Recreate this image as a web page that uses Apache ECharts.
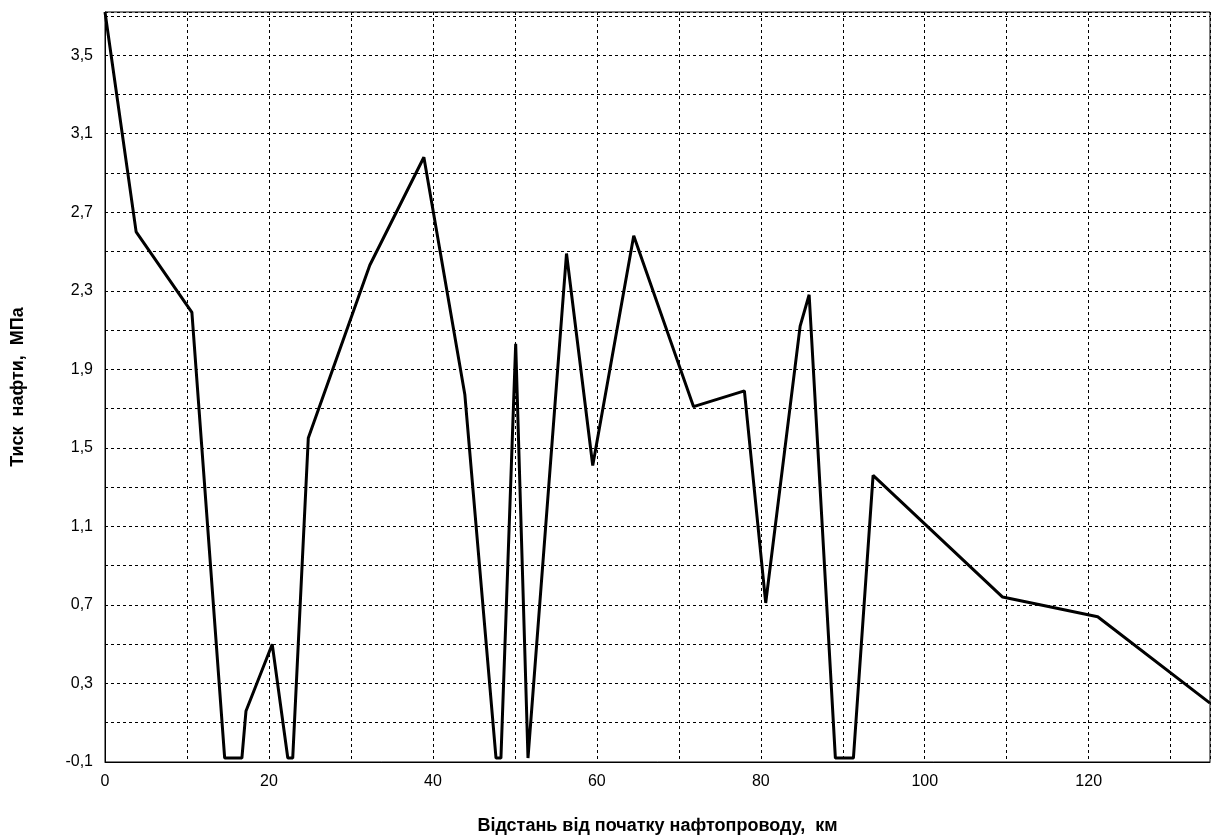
<!DOCTYPE html>
<html><head><meta charset="utf-8">
<script src="https://cdn.jsdelivr.net/npm/echarts@6/dist/echarts.min.js"></script>
<style>html,body{margin:0;background:#fff}#main{width:1213px;height:840px}</style>
</head><body><div id="main"></div>
<script>
var distance = [0, 3.8, 10.6, 14.6, 16.7, 17.2, 20.4, 22.3, 22.9, 24.8, 32.3, 38.9, 43.9, 47.7, 48.3, 50.1, 51.6, 56.3, 59.5, 64.5, 71.8, 78.0, 80.6, 84.8, 85.9, 89.1, 91.3, 93.7, 109.5, 121.1, 134.8];
var pressure = [3.72, 2.6, 2.19, -0.08, -0.08, 0.16, 0.5, -0.08, -0.08, 1.55, 2.43, 2.98, 1.77, -0.08, -0.08, 2.03, -0.08, 2.49, 1.41, 2.58, 1.71, 1.79, 0.71, 2.12, 2.28, -0.08, -0.08, 1.36, 0.74, 0.64, 0.2];

var myChart = echarts.init(document.getElementById('main'));
var font = 'Liberation Sans, Arial, sans-serif';
var dashed = { show: true, lineStyle: { color: '#000', type: [3, 3], width: 1 } };

var option = {
  animation: false,
  grid: { left: 105, right: 3, top: 12, bottom: 77, show: true, borderColor: '#000', borderWidth: 1 },
  xAxis: {
    type: 'value', min: 0, max: 134.8, interval: 10,
    name: 'Відстань від початку нафтопроводу,  км', nameLocation: 'middle', nameGap: 55,
    nameTextStyle: { fontFamily: font, fontSize: 18, fontWeight: 'bold', color: '#000' },
    axisLine: { onZero: false, lineStyle: { color: '#000' } },
    axisTick: { show: false },
    axisLabel: { fontFamily: font, fontSize: 16, color: '#000', margin: 12, showMaxLabel: false,
      formatter: function (v) { return v % 20 === 0 ? String(v) : ''; } },
    splitLine: dashed
  },
  yAxis: {
    type: 'value', min: -0.1, max: 3.72, interval: 0.2,
    name: 'Тиск  нафти,  МПа', nameLocation: 'middle', nameGap: 78,
    nameTextStyle: { fontFamily: font, fontSize: 18, fontWeight: 'bold', color: '#000' },
    axisLine: { show: true, onZero: false, lineStyle: { color: '#000' } },
    axisTick: { show: false },
    axisLabel: { fontFamily: font, fontSize: 16, color: '#000', margin: 12, showMaxLabel: false,
      formatter: function (v) {
        var k = Math.round((v + 0.1) / 0.2);
        return k % 2 === 0 ? v.toFixed(1).replace('.', ',') : '';
      } },
    splitLine: dashed
  },
  series: [{
    type: 'line', symbol: 'none',
    lineStyle: { color: '#000', width: 3 },
    data: distance.map(function (d, i) { return [d, pressure[i]]; })
  }]
};
myChart.setOption(option);
</script></body></html>
